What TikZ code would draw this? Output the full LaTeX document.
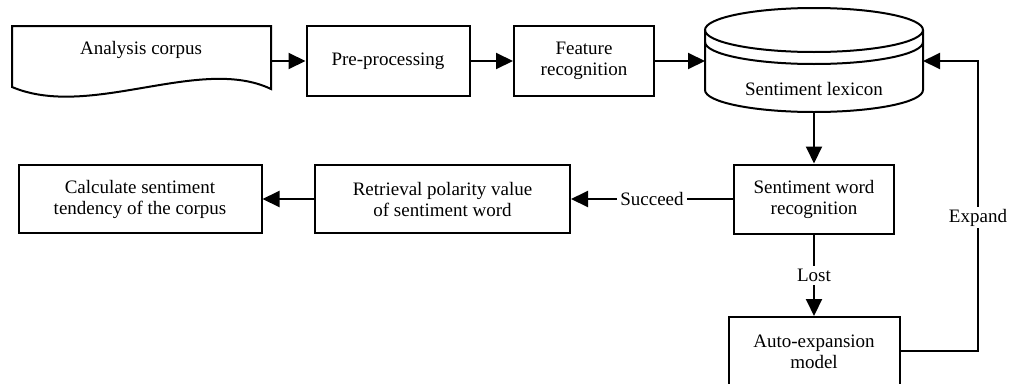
\documentclass[tikz,border=0pt]{standalone}
\usepackage{fontspec}
\setmainfont{Liberation Serif}
\usetikzlibrary{arrows.meta}
\begin{document}
\begin{tikzpicture}[x=1pt,y=-1pt,
  every node/.style={font=\fontsize{19}{21}\selectfont, align=center},
  box/.style={draw, line width=2pt, inner sep=0pt},
  conn/.style={line width=2pt, -{Triangle[length=17pt,width=16pt]}},
  lbl/.style={fill=white, inner sep=3pt}]
\useasboundingbox (0,0) rectangle (1011,383);
\clip (0,0) rectangle (1011,383);
% document shape
\draw[line width=2pt] (12,26) -- (271,26) -- (271,89)
  .. controls (200,55) and (90,120) .. (12,87) -- cycle;
\node (corpus) at (141,50) {Analysis corpus};
\coordinate (corpusE) at (271,61);
% boxes
\node[box, minimum width=163, minimum height=70] (pre) at (388,61) {Pre-processing};
\node[box, minimum width=140, minimum height=70] (feat) at (584,61) {Feature\\recognition};
% cylinder
\draw[line width=2pt] (814,30) ellipse[x radius=109, y radius=22];
\draw[line width=2pt] (705,42) arc[start angle=180, end angle=0, x radius=109, y radius=22];
\draw[line width=2pt] (705,30) -- (705,90) arc[start angle=180, end angle=0, x radius=109, y radius=22] -- (923,30);
\node (lex) at (814,89) {Sentiment lexicon};
\coordinate (lexW) at (705,61);
\coordinate (lexE) at (923,61);
\coordinate (lexS) at (814,112);
% second row
\node[box, minimum width=160, minimum height=69] (swr) at (814,199) {Sentiment word\\recognition};
\node[box, minimum width=255, minimum height=68] (ret) at (442.5,199) {Retrieval polarity value\\of sentiment word};
\node[box, minimum width=243, minimum height=68] (calc) at (140,199) {Calculate sentiment\\tendency of the corpus};
\node[box, minimum width=171, minimum height=70] (auto) at (814,352) {Auto-expansion\\model};
\coordinate (exR) at (978,351);
\coordinate (exT) at (978,61);
% connectors
\draw[conn] (corpusE) -- (pre.west);
\draw[conn] (pre.east) -- (feat.west);
\draw[conn] (feat.east) -- (lexW);
\draw[conn] (lexS) -- (swr.north);
\draw[conn] (swr.west) -- node[lbl, pos=0.5] {Succeed} (ret.east);
\draw[conn] (ret.west) -- (calc.east);
\draw[conn] (swr.south) -- node[lbl, pos=0.5] {Lost} (auto.north);
\draw[conn] (auto.east |- exR) -- (exR) -- node[lbl, pos=0.46, inner sep=2pt] {Expand} (exT) -- (lexE);
\end{tikzpicture}
\end{document}
